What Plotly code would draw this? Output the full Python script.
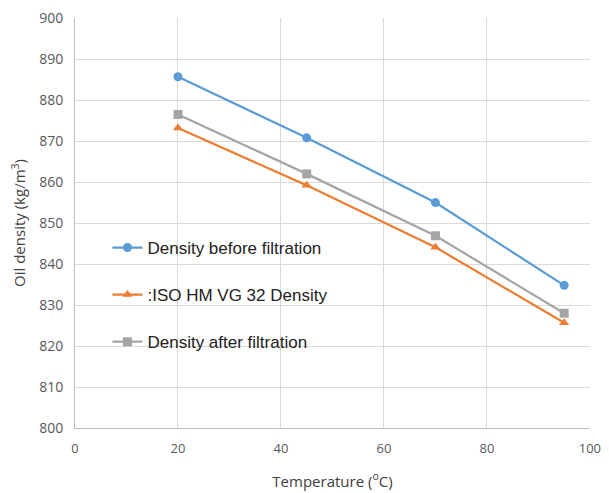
import plotly.graph_objects as go

temperature = [20, 45, 70, 95]
density_before = [885.7, 870.8, 855.0, 834.8]
iso_density = [873.2, 859.2, 844.1, 825.7]
density_after = [876.5, 862.0, 846.9, 828.0]

series_names = ["Density before filtration", ":ISO HM VG 32 Density", "Density after filtration"]
x_ticks = [0, 20, 40, 60, 80, 100]
y_ticks = [800, 810, 820, 830, 840, 850, 860, 870, 880, 890, 900]

fig = go.Figure()
specs = [
    (density_before, series_names[0], "#5b9bd5", "circle"),
    (iso_density, series_names[1], "#ed7d31", "triangle-up"),
    (density_after, series_names[2], "#a5a5a5", "square"),
]
for i, (vals, name, color, sym) in enumerate(specs):
    fig.add_trace(go.Scatter(
        x=temperature, y=vals, name=name, mode="lines+markers",
        line=dict(color=color, width=2.25),
        marker=dict(symbol=sym, size=9, color=color),
        legendgroup=f"g{i}",
    ))

fig.update_layout(
    width=601, height=485,
    margin=dict(l=67, r=19, t=10, b=65),
    paper_bgcolor="white", plot_bgcolor="white",
    font=dict(family="Open Sans, Liberation Sans, sans-serif", color="#595959", size=14),
    legend=dict(
        x=0.063, y=0.483, xanchor="left", yanchor="top",
        bgcolor="rgba(0,0,0,0)",
        font=dict(family="Liberation Sans, Arial, sans-serif", size=17, color="#222222"),
        tracegroupgap=22, traceorder="grouped",
    ),
    xaxis=dict(
        range=[0, 100.02], tickvals=x_ticks, showgrid=True, gridcolor="#d9d9d9",
        showline=True, linecolor="#bfbfbf", zeroline=False, ticks="",
        title=dict(text="Temperature (<sup>o</sup>C)", font=dict(size=15, color="#404040"), standoff=20),
        tickfont=dict(size=13, color="#595959"),
        ticklabelstandoff=8,
        automargin=False,
    ),
    yaxis=dict(
        range=[800, 900.03], tickvals=y_ticks, showgrid=True, gridcolor="#d9d9d9",
        showline=True, linecolor="#bfbfbf", zeroline=False, ticks="",
        title=dict(text="Oil density (kg/m<sup>3</sup>)", font=dict(size=15, color="#404040"), standoff=10),
        tickfont=dict(size=14, color="#595959"),
        ticklabelstandoff=8,
        automargin=False,
    ),
)

fig.write_html("out.html")
